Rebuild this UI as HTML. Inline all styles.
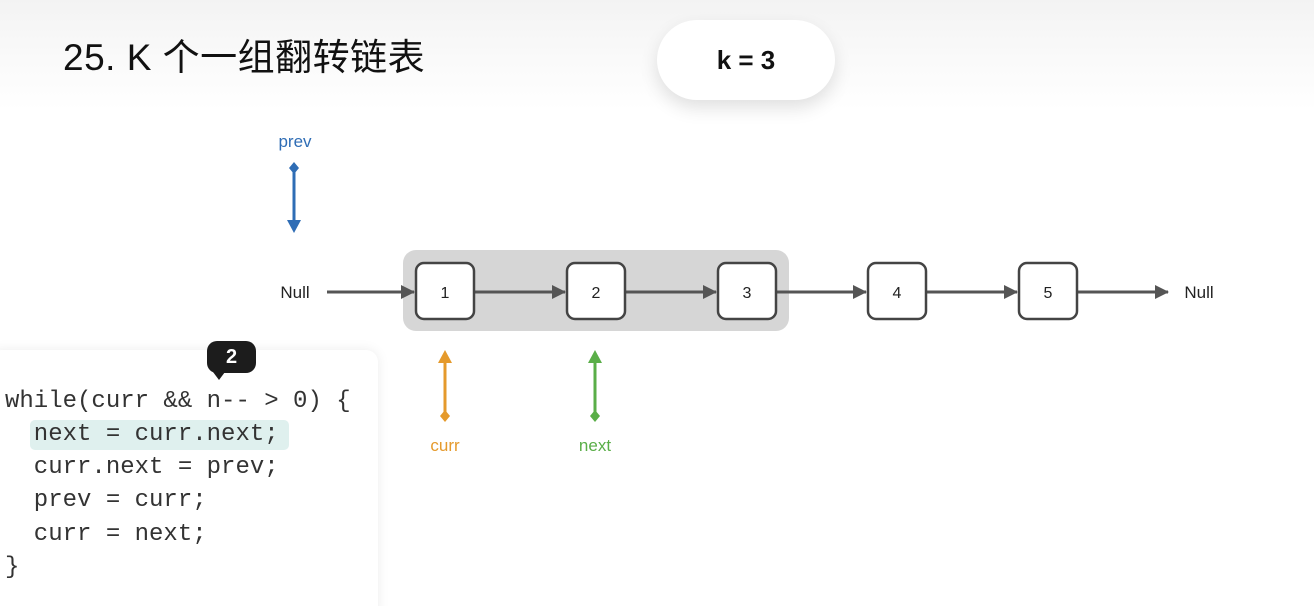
<!DOCTYPE html>
<html><head><meta charset="utf-8"><style>
html,body{margin:0;padding:0;width:1314px;height:606px;overflow:hidden}
body{position:relative;background:linear-gradient(#f3f3f3 0,#fafafa 60px,#fff 110px,#fff);font-family:"Liberation Sans","Noto Sans CJK SC",sans-serif}
.title{position:absolute;left:63px;top:27px;font-size:37px;color:#111;letter-spacing:0.5px}
.pill{position:absolute;left:657px;top:20px;width:178px;height:80px;border-radius:40px;background:#fff;box-shadow:0 8px 18px rgba(0,0,0,0.12);font-size:26px;font-weight:bold;color:#111;text-align:center;line-height:80px}
.code{position:absolute;left:-10px;top:350px;width:388px;height:270px;background:#fff;border-radius:12px;box-shadow:0 0 12px rgba(0,0,0,0.08)}
.ln{position:absolute;left:5px;font-family:"Liberation Mono",monospace;font-size:24px;color:#333;white-space:pre;line-height:33px}
.hl{position:absolute;left:30px;top:420px;width:259px;height:30px;background:#dff0ee;border-radius:5px}
.badge{position:absolute;left:207px;top:341px;width:49px;height:32px;border-radius:10px;background:#1c1c1c;color:#fff;font-weight:bold;font-size:20px;text-align:center;line-height:32px}
.badge:after{content:"";position:absolute;left:6px;bottom:-7px;border-left:6px solid transparent;border-right:6px solid transparent;border-top:8px solid #1c1c1c}
</style></head><body>
<div class="title">25. K 个一组翻转链表</div>
<div class="pill">k = 3</div>
<svg width="1314" height="606" style="position:absolute;left:0;top:0" font-family="Liberation Sans, sans-serif">
<defs>
<marker id="a" markerWidth="14" markerHeight="14" refX="13" refY="7" orient="auto" markerUnits="userSpaceOnUse"><path d="M0,0 L14,7 L0,14 z" fill="#555"/></marker>
</defs>
<rect x="403" y="250" width="386" height="81" rx="13" fill="#d6d6d6"/>
<g stroke="#555" stroke-width="3" fill="none">
<line x1="327" y1="292" x2="414" y2="292" marker-end="url(#a)"/>
<line x1="475" y1="292" x2="565" y2="292" marker-end="url(#a)"/>
<line x1="626" y1="292" x2="716" y2="292" marker-end="url(#a)"/>
<line x1="777" y1="292" x2="866" y2="292" marker-end="url(#a)"/>
<line x1="927" y1="292" x2="1017" y2="292" marker-end="url(#a)"/>
<line x1="1078" y1="292" x2="1168" y2="292" marker-end="url(#a)"/>
</g>
<g fill="#fff" stroke="#444" stroke-width="2.5">
<rect x="416" y="263" width="58" height="56" rx="8"/>
<rect x="567" y="263" width="58" height="56" rx="8"/>
<rect x="718" y="263" width="58" height="56" rx="8"/>
<rect x="868" y="263" width="58" height="56" rx="8"/>
<rect x="1019" y="263" width="58" height="56" rx="8"/>
</g>
<g font-size="16" fill="#222" text-anchor="middle">
<text x="445" y="298">1</text><text x="596" y="298">2</text><text x="747" y="298">3</text><text x="897" y="298">4</text><text x="1048" y="298">5</text>
<text x="295" y="298" font-size="17">Null</text><text x="1199" y="298" font-size="17">Null</text>
</g>
<g stroke-width="3">
<line x1="294" y1="168" x2="294" y2="222" stroke="#2f6db5"/>
<path d="M294,162 l5,6 l-5,6 l-5,-6z M287,220 h14 l-7,13z" fill="#2f6db5"/>
<line x1="445" y1="362" x2="445" y2="416" stroke="#e59a2c"/>
<path d="M445,350 l7,13 h-14z M445,410 l5,6 l-5,6 l-5,-6z" fill="#e59a2c"/>
<line x1="595" y1="362" x2="595" y2="416" stroke="#5aae48"/>
<path d="M595,350 l7,13 h-14z M595,410 l5,6 l-5,6 l-5,-6z" fill="#5aae48"/>
</g>
<g font-size="17" text-anchor="middle">
<text x="295" y="147" fill="#2f6db5">prev</text>
<text x="445" y="451" fill="#e59a2c">curr</text>
<text x="595" y="451" fill="#5aae48">next</text>
</g>
</svg>
<div class="code"></div>
<div class="hl"></div>
<div class="ln" style="top:385px">while(curr &amp;&amp; n-- &gt; 0) {</div>
<div class="ln" style="top:418px">  next = curr.next;</div>
<div class="ln" style="top:451px">  curr.next = prev;</div>
<div class="ln" style="top:484px">  prev = curr;</div>
<div class="ln" style="top:518px">  curr = next;</div>
<div class="ln" style="top:551px">}</div>
<div class="badge">2</div>
</body></html>
